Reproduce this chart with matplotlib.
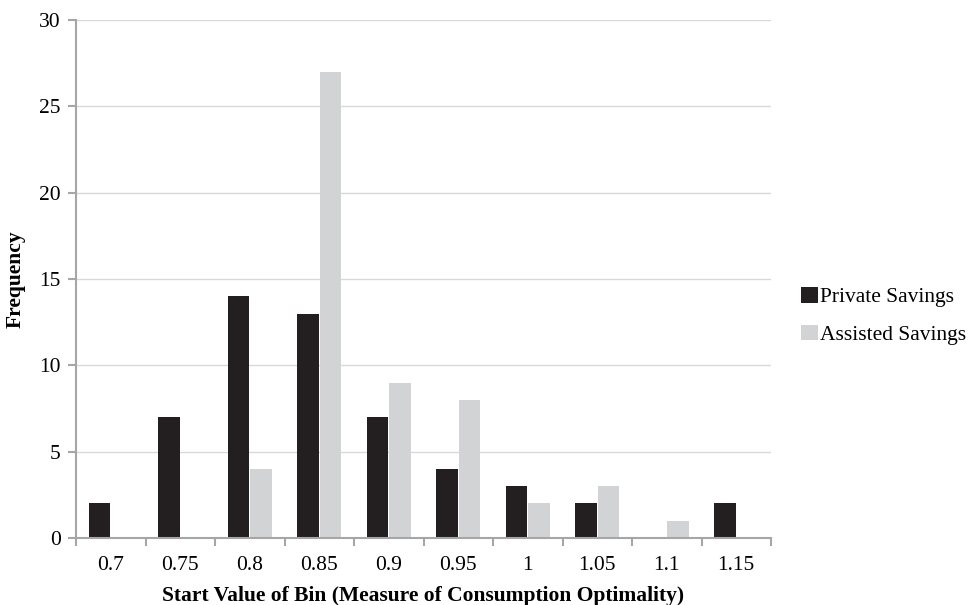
import matplotlib
matplotlib.use("Agg")
import matplotlib.pyplot as plt
from matplotlib.patches import Patch
import numpy as np

categories = ["0.7", "0.75", "0.8", "0.85", "0.9", "0.95", "1", "1.05", "1.1", "1.15"]
private_savings = [2, 7, 14, 13, 7, 4, 3, 2, 0, 2]
assisted_savings = [0, 0, 4, 27, 9, 8, 2, 3, 1, 0]

dark = "#231f20"
light = "#d1d3d4"
axis_gray = "#a6a6a6"
grid_gray = "#d9d9d9"
fs = 15.5

plt.rcParams["font.family"] = ["Liberation Serif", "DejaVu Serif"]

fig = plt.figure(figsize=(9.69, 6.05), dpi=100)
ax = fig.add_axes([76 / 969, 67 / 605, 695 / 969, 518 / 605])

x = np.arange(len(categories))
w = 0.31
ax.bar(x - w / 2 - 0.005, private_savings, width=w, color=dark, zorder=2, label="Private Savings")
ax.bar(x + w / 2 + 0.005, assisted_savings, width=w, color=light, zorder=2, label="Assisted Savings")

ax.set_xlim(-0.5, len(categories) - 0.5)
ax.set_ylim(0, 30)
ax.set_yticks(range(0, 31, 5))
ax.yaxis.grid(True, color=grid_gray, linewidth=1, zorder=0)
ax.set_axisbelow(True)

ax.set_xticks(x)
ax.set_xticklabels(categories)
ax.set_xticks(np.arange(-0.5, len(categories), 1), minor=True)
ax.tick_params(axis="x", which="major", length=0, pad=13, labelsize=fs)
ax.tick_params(axis="x", which="minor", length=6, color=axis_gray, width=1.5)
ax.tick_params(axis="y", length=6, color=axis_gray, width=1.5, labelsize=fs, pad=5)

for s in ["top", "right"]:
    ax.spines[s].set_visible(False)
for s in ["left", "bottom"]:
    ax.spines[s].set_color(axis_gray)
    ax.spines[s].set_linewidth(1.5)
    ax.spines[s].set_zorder(3)

ax.set_xlabel("Start Value of Bin (Measure of Consumption Optimality)", fontsize=fs,
              fontweight="bold", labelpad=8)
ax.set_ylabel("Frequency", fontsize=fs, fontweight="bold", labelpad=10)

handles = [Patch(facecolor=dark, label="Private Savings"),
           Patch(facecolor=light, label="Assisted Savings")]
fig.legend(handles=handles, loc="center left", bbox_to_anchor=(782 / 969, 1 - 316 / 605),
           frameon=False, fontsize=fs, handlelength=0.75, handleheight=0.75,
           handletextpad=0.1, labelspacing=0.8)

fig.savefig("out.png", dpi=100)
